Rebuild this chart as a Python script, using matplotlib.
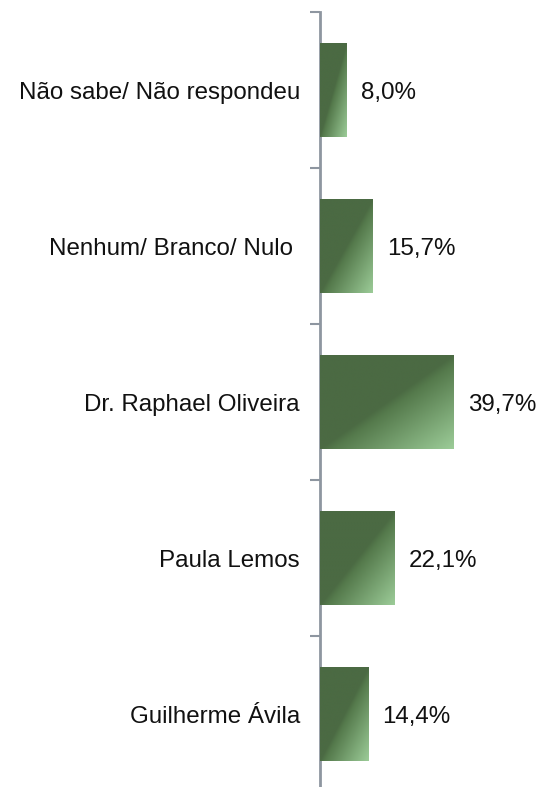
import matplotlib.pyplot as plt
import numpy as np
from matplotlib.colors import LinearSegmentedColormap

categorias = ["Não sabe/ Não respondeu", "Nenhum/ Branco/ Nulo ", "Dr. Raphael Oliveira",
              "Paula Lemos", "Guilherme Ávila"]
valores = [8.0, 15.7, 39.7, 22.1, 14.4]
rotulos = ["8,0%", "15,7%", "39,7%", "22,1%", "14,4%"]

plt.rcParams['font.family'] = ['Liberation Sans', 'DejaVu Sans']

fig = plt.figure(figsize=(5.39, 7.87), dpi=100)
# eixo vai um pouco além da borda inferior, como no original
ax = fig.add_axes([320 / 539, -5 / 787, 219 / 539, 780 / 787])

n = len(categorias)
pos = np.arange(n)[::-1]
barras = ax.barh(pos, valores, height=0.6, color='#4b6a43', edgecolor='none', zorder=2)

ax.set_xlim(0, 219 / 3.375)
ax.set_ylim(-0.5, n - 0.5)

# gradiente diagonal: escuro até a diagonal, claro no canto inferior direito
cmap = LinearSegmentedColormap.from_list('verde', [(0, '#4b6a43'), (0.5, '#4b6a43'),
                                                   (0.55, '#557a4c'), (1, '#9ccc98')])
gx, gy = np.meshgrid(np.linspace(0, 1, 200), np.linspace(0, 1, 200))
grad = (gx + gy) / 2  # gy=1 na parte de baixo (origin upper)
for b in barras:
    x0, y0 = b.get_x(), b.get_y()
    w, h = b.get_width(), b.get_height()
    im = ax.imshow(grad, cmap=cmap, vmin=0, vmax=1, extent=[x0, x0 + w, y0, y0 + h],
                   origin='upper', aspect='auto', interpolation='bilinear', zorder=3)
    im.set_clip_path(b)

fs = 17.4
for p, v, r in zip(pos, valores, rotulos):
    ax.text(v + 14 / 3.375, p - 0.02, r, va='center', ha='left', fontsize=fs, color='#111111')

ax.set_yticks(np.arange(-0.5, n, 1))
ax.set_yticklabels([])
ax.tick_params(axis='y', length=7, width=1.5, color='#8e96a0', direction='out')
for p, c in zip(pos, categorias):
    ax.text(-20 / 3.375, p - 0.02, c, va='center', ha='right', fontsize=fs, color='#111111')

ax.set_xticks([])
for s in ['top', 'right', 'bottom']:
    ax.spines[s].set_visible(False)
ax.spines['left'].set_color('#8e96a0')
ax.spines['left'].set_linewidth(2)

fig.savefig('out.png', dpi=100)
